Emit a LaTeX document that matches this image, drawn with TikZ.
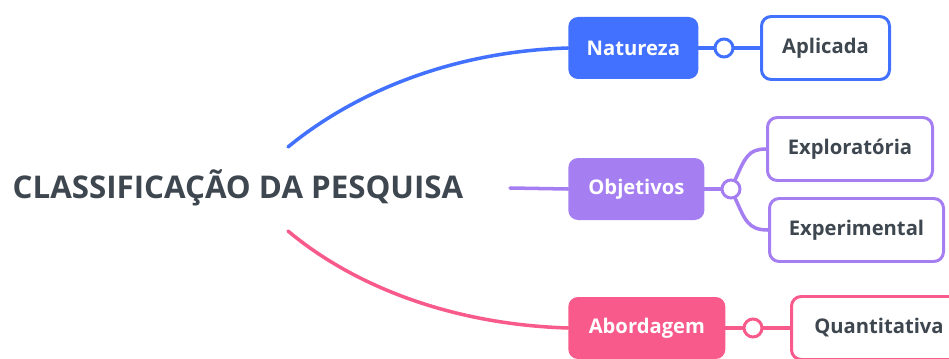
\documentclass[tikz,border=0pt]{standalone}
\usepackage{fontspec}
\setmainfont{Open Sans}
\usepackage{tikz}
\usetikzlibrary{positioning, calc, backgrounds}
\usepackage{xcolor}
\definecolor{mapblue}{HTML}{4271FF}
\definecolor{mappurple}{HTML}{A57EF1}
\definecolor{mappink}{HTML}{F75A8B}
\definecolor{mapink}{HTML}{3E474F}

\begin{document}
\begin{tikzpicture}[x=0.02cm, y=-0.02cm,
    topic/.style={anchor=west, rounded corners=5.5pt, minimum height=62*0.02cm,
                  font=\fontsize{11.5}{13}\selectfont\bfseries, text=white},
    leaf/.style={anchor=west, draw=#1, line width=1.7pt, fill=white, rounded corners=5.5pt,
                 minimum height=63*0.02cm, font=\fontsize{11.5}{13}\selectfont\bfseries, text=mapink},
    knob/.style={circle, draw=#1, line width=1.7pt, fill=white, inner sep=0pt, minimum size=18*0.02cm},
    branch/.style={line width=2pt, line cap=round}]
      \clip (0,0) rectangle (949,358);

      \node[font=\fontsize{17.8}{20}\selectfont\bfseries, text=mapink] (root) at (238,188)
        {CLASSIFICAÇÃO DA PESQUISA};
      \coordinate (rootup) at (288,147);
      \coordinate (rootmid) at (510,188);
      \coordinate (rootdown) at (288,231);

      \node[topic, fill=mapblue, minimum width=130*0.02cm] (nat) at (568,48) {Natureza};
      \node[knob=mapblue] (k1) at (724,48) {};
      \node[leaf=mapblue, minimum width=128*0.02cm] (apl) at (760,48) {Aplicada};

      \node[topic, fill=mappurple, minimum width=136*0.02cm] (obj) at (568,189) {Objetivos};
      \node[knob=mappurple] (k2) at (731,189) {};
      \node[leaf=mappurple, minimum width=165*0.02cm] (explo) at (766,149) {Exploratória};
      \node[leaf=mappurple, minimum width=174*0.02cm] (exper) at (768,230) {Experimental};

      \node[topic, fill=mappink, minimum width=157*0.02cm] (abo) at (568,328) {Abordagem};
      \node[knob=mappink] (k3) at (753,328) {};
      \node[leaf=mappink, minimum width=175*0.02cm] (quan) at (790,328) {Quantitativa};

      \begin{scope}[on background layer]
      \draw[branch, mapblue] (rootup) .. controls (345,100) and (440,52) .. (nat.west);
      \draw[branch, mappurple] (rootmid) -- (obj.west);
      \draw[branch, mappink] (rootdown) .. controls (345,279) and (440,324) .. (abo.west);

      \draw[branch, mapblue] (nat.east) -- (k1) -- (apl.west);
      \draw[branch, mappurple] (obj.east) -- (k2);
      \draw[branch, mappurple] (k2) .. controls (745,158) and (748,149) .. (explo.west);
      \draw[branch, mappurple] (k2) .. controls (745,220) and (748,230) .. (exper.west);
      \draw[branch, mappink] (abo.east) -- (k3) -- (quan.west);
      \end{scope}
    \end{tikzpicture}
\end{document}
